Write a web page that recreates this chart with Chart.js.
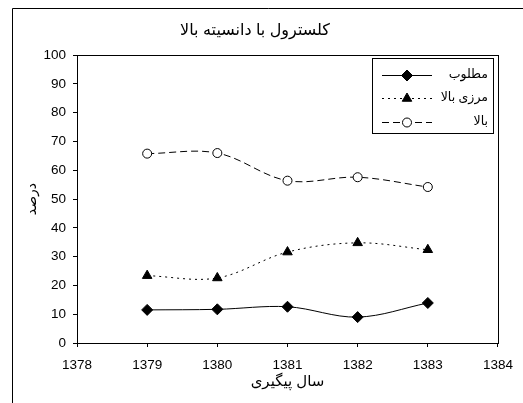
<!DOCTYPE html>
<html>
<head>
<meta charset="utf-8">
<script src="https://cdn.jsdelivr.net/npm/chart.js@4/dist/chart.umd.min.js"></script>
<style>
html,body{margin:0;padding:0;background:#fff;}
canvas{display:block;}
</style>
</head>
<body>
<canvas id="c" width="523" height="403"></canvas>
<script>
// ---- data ----
const years = [1379, 1380, 1381, 1382, 1383];
const desired = [11.5, 11.7, 12.6, 9.0, 13.9];        // مطلوب
const borderHigh = [23.4, 22.6, 31.6, 34.8, 32.4];    // مرزی بالا
const high = [65.8, 66.0, 56.4, 57.6, 54.2];          // بالا
const seriesNames = ['مطلوب', 'مرزی بالا', 'بالا'];
const titleText = 'کلسترول با دانسیته بالا';
const xTitle = 'سال پیگیری';
const yTitle = 'درصد';
const xMin = 1378, xMax = 1384, yMin = 0, yMax = 100;

const FONT = "'Liberation Sans', 'DejaVu Sans', Arial, sans-serif";
const toXY = arr => arr.map((v, i) => ({x: years[i], y: v}));

const framePlugin = {
  id: 'frame',
  beforeDraw(chart) {
    const ctx = chart.ctx;
    ctx.save();
    ctx.fillStyle = '#fff';
    ctx.fillRect(0, 0, chart.width, chart.height);
    ctx.strokeStyle = '#000';
    ctx.lineWidth = 1;
    ctx.beginPath();
    ctx.moveTo(12.5, chart.height + 5);
    ctx.lineTo(12.5, 8.5);
    ctx.lineTo(chart.width + 5, 8.5);
    ctx.stroke();
    ctx.restore();
  },
  afterDatasetsDraw(chart) {
    const ctx = chart.ctx;
    const a = chart.chartArea;
    ctx.save();
    ctx.strokeStyle = '#000';
    ctx.lineWidth = 1;
    ctx.strokeRect(Math.round(a.left) + 0.5, Math.round(a.top) + 0.5,
      Math.round(a.right - a.left), Math.round(a.bottom - a.top));
    // legend
    const bx = 372.5, by = 58.5, bw = 121, bh = 75;
    ctx.fillStyle = '#fff';
    ctx.fillRect(bx, by, bw, bh);
    ctx.strokeRect(bx, by, bw, bh);
    const rows = [75, 98, 122];
    chart.data.datasets.forEach((ds, i) => {
      const y = rows[i];
      ctx.save();
      ctx.strokeStyle = ds.borderColor;
      ctx.lineWidth = ds.borderWidth;
      ctx.setLineDash(ds.borderDash || []);
      ctx.beginPath();
      ctx.moveTo(382, y + 0.5);
      ctx.lineTo(432, y + 0.5);
      ctx.stroke();
      ctx.restore();
      ctx.save();
      ctx.fillStyle = ds.pointBackgroundColor;
      ctx.strokeStyle = ds.pointBorderColor;
      ctx.lineWidth = 1;
      Chart.helpers.drawPoint(ctx, {pointStyle: ds.pointStyle, radius: ds.pointRadius, borderWidth: 1, rotation: 0}, 407, y + 0.5);
      ctx.restore();
      ctx.save();
      ctx.fillStyle = '#000';
      ctx.font = '12.5px ' + FONT;
      ctx.textAlign = 'right';
      ctx.textBaseline = 'middle';
      ctx.direction = 'rtl';
      ctx.fillText(ds.label, 488, y);
      ctx.restore();
    });
    ctx.restore();
  }
};

new Chart(document.getElementById('c'), {
  type: 'line',
  data: {
    datasets: [
      {
        label: seriesNames[0], data: toXY(desired),
        borderColor: '#000', borderWidth: 1, tension: 0.35,
        pointStyle: 'rectRot', pointRadius: 5.5, pointBackgroundColor: '#000', pointBorderColor: '#000', pointBorderWidth: 1
      },
      {
        label: seriesNames[1], data: toXY(borderHigh),
        borderColor: '#000', borderWidth: 1, borderDash: [2, 4], tension: 0.35,
        pointStyle: 'triangle', pointRadius: 5.5, pointBackgroundColor: '#000', pointBorderColor: '#000', pointBorderWidth: 1
      },
      {
        label: seriesNames[2], data: toXY(high),
        borderColor: '#000', borderWidth: 1, borderDash: [7, 4], tension: 0.35,
        pointStyle: 'circle', pointRadius: 4.5, pointBackgroundColor: '#fff', pointBorderColor: '#000', pointBorderWidth: 1
      }
    ]
  },
  options: {
    responsive: false,
    animation: false,
    devicePixelRatio: 1,
    layout: {padding: {left: 12, right: 25, top: 8, bottom: 12}},
    plugins: {
      legend: {display: false},
      tooltip: {enabled: false},
      title: {
        display: true, text: titleText, color: '#000',
        font: {family: FONT, size: 16, weight: 'normal'},
        padding: {top: 13, bottom: 15}
      }
    },
    scales: {
      x: {
        type: 'linear', min: xMin, max: xMax,
        afterFit(s) { s.height = 48; },
        grid: {drawOnChartArea: false, drawTicks: true, tickLength: 4, color: '#000'},
        border: {color: '#000', width: 1},
        ticks: {stepSize: 1, color: '#000', padding: 10, maxRotation: 0,
          font: {family: FONT, size: 13.5},
          callback: v => String(v)},
        title: {display: true, text: xTitle, color: '#000',
          font: {family: FONT, size: 15}, padding: {top: 2, bottom: 0}}
      },
      y: {
        min: yMin, max: yMax,
        afterFit(s) { s.width = 65; },
        grid: {drawOnChartArea: false, drawTicks: true, tickLength: 4, color: '#000'},
        border: {color: '#000', width: 1},
        ticks: {stepSize: 10, color: '#000', padding: 7,
          font: {family: FONT, size: 13.5}},
        title: {display: true, text: yTitle, color: '#000',
          font: {family: FONT, size: 14}, padding: {top: 12, bottom: 0}}
      }
    }
  },
  plugins: [framePlugin]
});
</script>
</body>
</html>
